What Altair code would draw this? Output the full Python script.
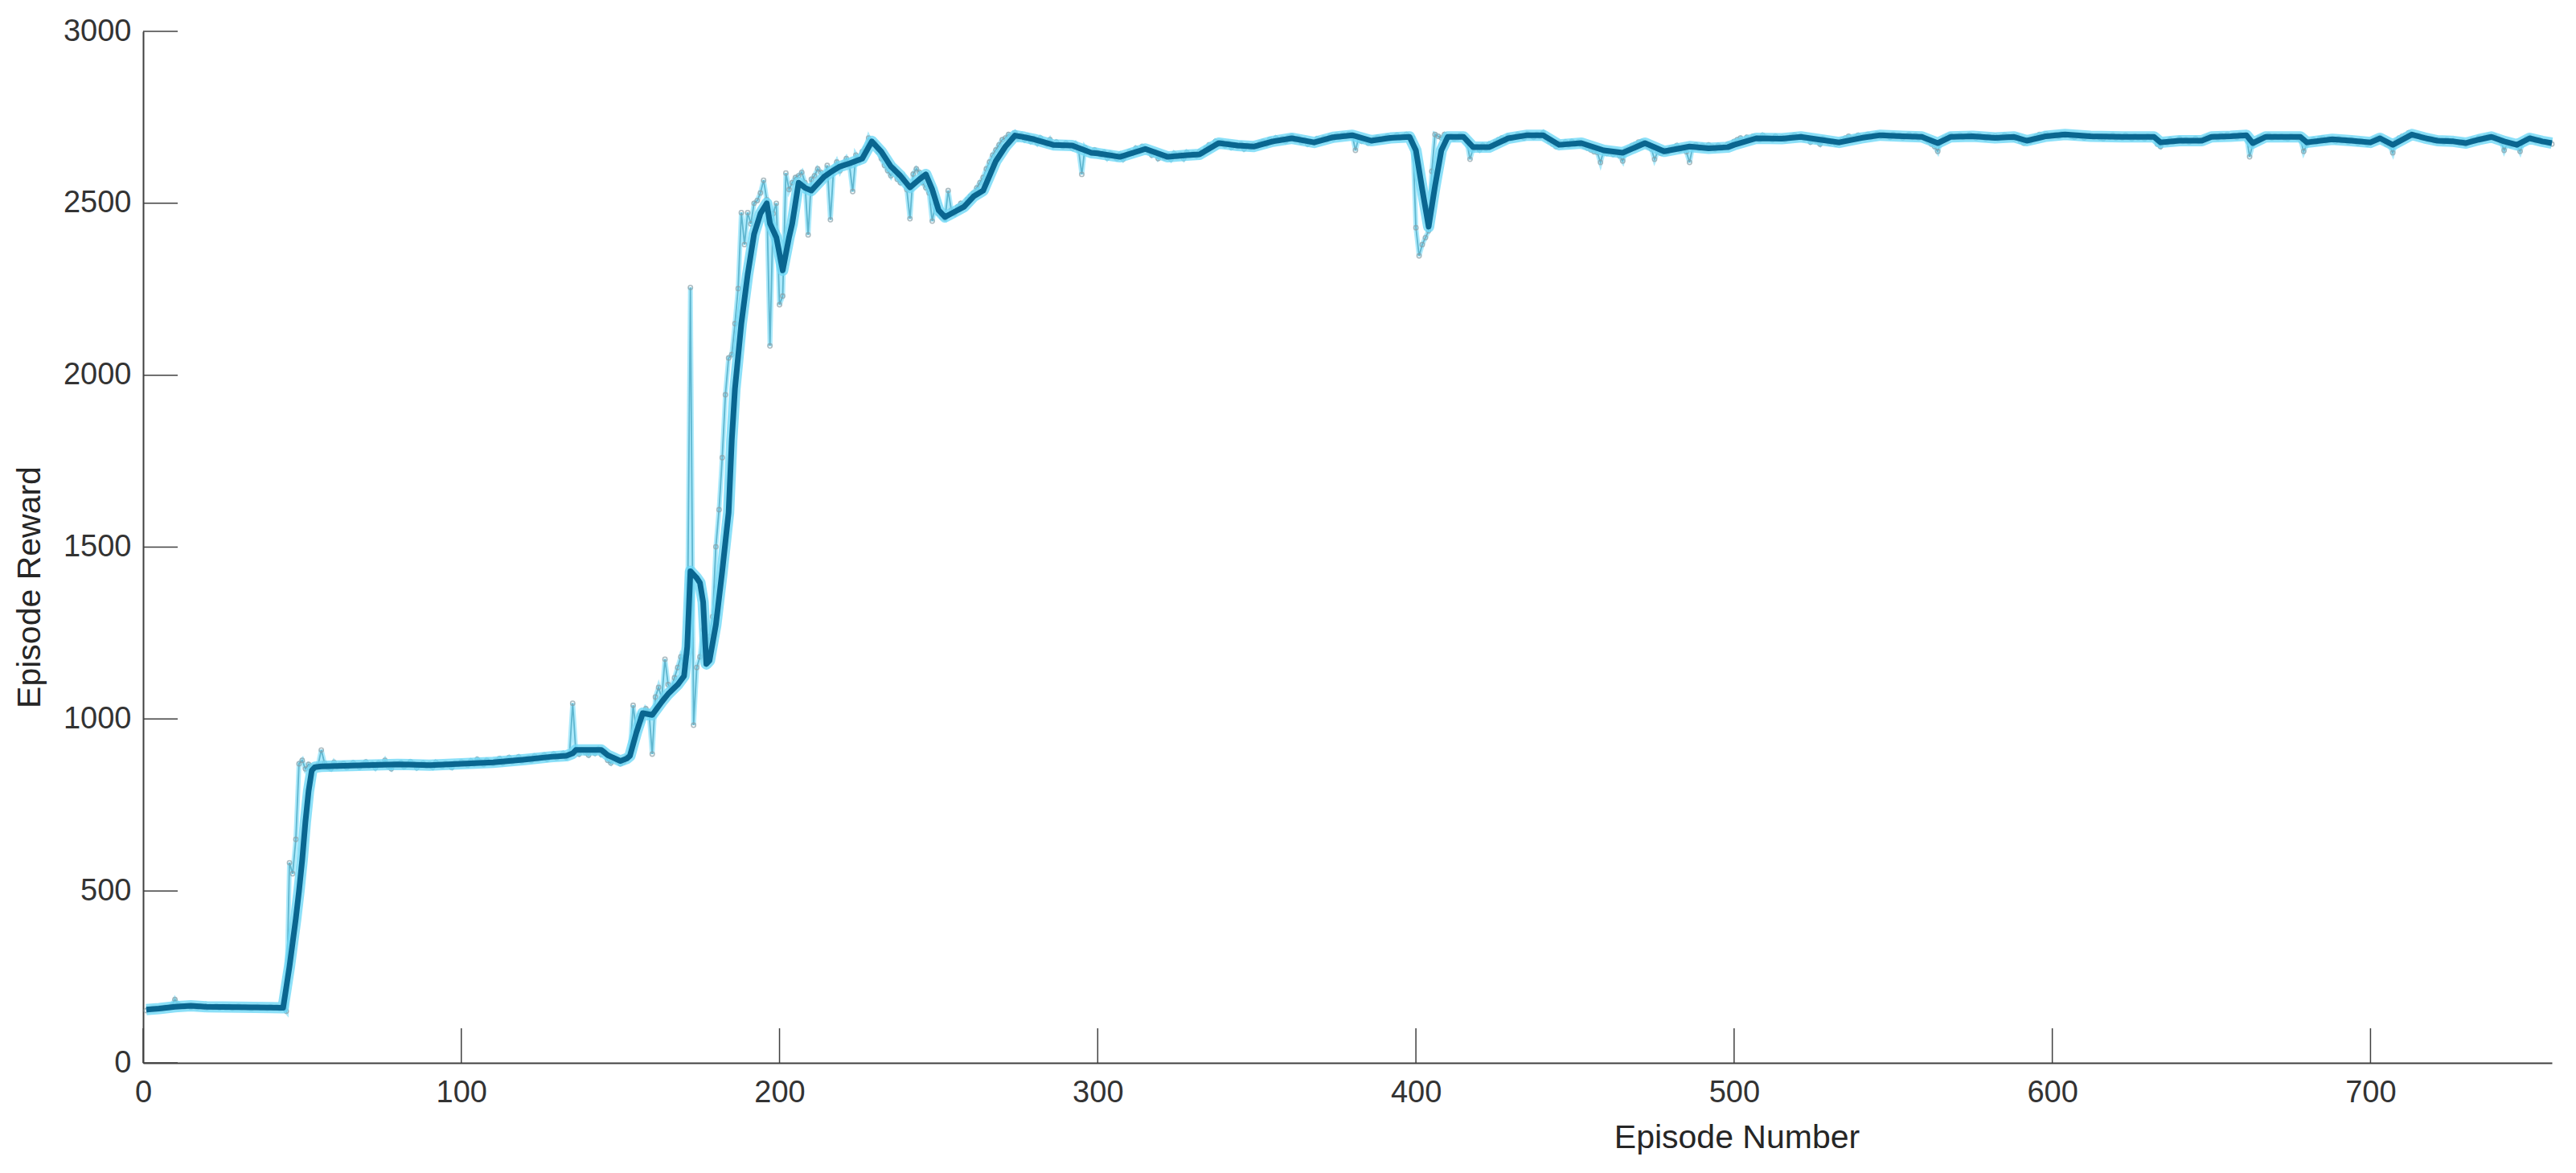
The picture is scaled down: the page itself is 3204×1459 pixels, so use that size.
import altair as alt
import pandas as pd

FONT = "Liberation Sans"

# ---------------- data ----------------
# Episode reward, one value per episode, in blocks of episodes
reward_001_044 = [152, 156, 158, 157, 160, 159, 162, 161, 166, 184,
                  170, 166, 163, 165, 162, 164, 161, 166, 163, 160,
                  164, 162, 165, 160, 163, 161, 164, 159, 162, 165,
                  161, 163, 160, 158, 162, 164, 160, 161, 159, 163,
                  160, 162, 158, 161]
reward_045_100 = [150, 582, 550, 650,
                  870, 880, 855, 868, 862, 858,
                  866, 910, 872, 860, 855, 874,
                  862, 868, 871, 859, 865, 873, 866, 860, 869, 875,
                  864, 870, 858, 872, 866, 880, 862, 855, 870, 868,
                  873, 861, 867, 876, 870, 858, 866, 872, 864, 869,
                  860, 874, 868, 863, 871, 866, 859, 872, 868, 875]
reward_101_150 = [872, 866, 878, 870, 883, 875, 868, 880, 874, 871,
                  879, 885, 872, 880, 888, 876, 882, 890, 878, 884,
                  887, 880, 892, 885, 889, 895, 883, 890, 898, 887,
                  893, 900, 888, 896, 1046, 905, 898, 910, 902, 895,
                  908, 900, 912, 897, 905, 880, 872, 885, 878, 870]
reward_151_210 = [875, 890, 900, 1040, 965, 1010, 1000, 1030, 1020, 898,
                  1064, 1092, 1060, 1174, 1100, 1090, 1120, 1150, 1181, 1160,
                  1190, 2255, 982, 1150, 1181, 1260, 1200, 1240, 1298, 1501,
                  1609, 1760, 1943, 2050, 2060, 2150, 2252, 2473, 2380, 2473,
                  2440, 2500, 2508, 2530, 2567, 2510, 2085, 2470, 2500, 2205,
                  2230, 2588, 2540, 2560, 2575, 2580, 2590, 2560, 2408, 2570]
reward_211_300 = [2580, 2600, 2590, 2575, 2610, 2452, 2600, 2620, 2595, 2615,
                  2630, 2610, 2534, 2640, 2625, 2650, 2660, 2690, 2670, 2675,
                  2650, 2630, 2610, 2595, 2580, 2600, 2570, 2560, 2575, 2540,
                  2455, 2585, 2600, 2590, 2560, 2545, 2530, 2448, 2500, 2470,
                  2460, 2455, 2537, 2480, 2470, 2490, 2500, 2495, 2510, 2520,
                  2530, 2545, 2560, 2575, 2600, 2620, 2640, 2655, 2670, 2685,
                  2690, 2700, 2695, 2705, 2690, 2698, 2685, 2695, 2680, 2688,
                  2675, 2690, 2680, 2672, 2685, 2668, 2678, 2670, 2665, 2675,
                  2668, 2660, 2672, 2655, 2584, 2662, 2650, 2645, 2655, 2648]
reward_301_400 = [2640, 2648, 2632, 2645, 2638, 2630, 2642, 2628, 2640, 2650,
                  2645, 2660, 2652, 2665, 2658, 2650, 2640, 2648, 2630, 2638,
                  2632, 2640, 2628, 2645, 2636, 2642, 2630, 2648, 2640, 2645,
                  2638, 2650, 2645, 2660, 2670, 2665, 2680, 2672, 2678, 2668,
                  2675, 2662, 2670, 2665, 2672, 2658, 2668, 2662, 2670, 2665,
                  2675, 2680, 2672, 2685, 2678, 2690, 2682, 2688, 2680, 2692,
                  2695, 2685, 2690, 2678, 2684, 2672, 2680, 2676, 2688, 2682,
                  2690, 2685, 2695, 2688, 2698, 2692, 2700, 2695, 2702, 2698,
                  2654, 2690, 2680, 2685, 2675, 2680, 2688, 2692, 2685, 2690,
                  2695, 2688, 2692, 2698, 2690, 2695, 2700, 2692, 2690, 2429]
reward_401_500 = [2347, 2380, 2400, 2420, 2593, 2700, 2695, 2690, 2700, 2692,
                  2695, 2688, 2690, 2698, 2692, 2680, 2628, 2660, 2665, 2655,
                  2668, 2660, 2672, 2665, 2678, 2685, 2690, 2682, 2695, 2688,
                  2692, 2700, 2695, 2690, 2702, 2698, 2692, 2700, 2695, 2705,
                  2690, 2680, 2672, 2665, 2675, 2668, 2678, 2670, 2680, 2672,
                  2678, 2670, 2665, 2660, 2655, 2650, 2648, 2619, 2652, 2645,
                  2650, 2642, 2648, 2638, 2623, 2655, 2660, 2668, 2672, 2678,
                  2680, 2670, 2665, 2658, 2628, 2650, 2645, 2655, 2648, 2660,
                  2662, 2668, 2655, 2660, 2650, 2619, 2665, 2670, 2660, 2668,
                  2662, 2670, 2665, 2658, 2668, 2660, 2665, 2672, 2670, 2680]
reward_501_600 = [2685, 2690, 2680, 2692, 2688, 2695, 2690, 2685, 2698, 2692,
                  2690, 2685, 2695, 2688, 2692, 2685, 2690, 2695, 2698, 2692,
                  2695, 2688, 2690, 2678, 2685, 2680, 2672, 2688, 2682, 2675,
                  2680, 2672, 2678, 2685, 2690, 2695, 2688, 2692, 2698, 2690,
                  2695, 2700, 2692, 2698, 2702, 2695, 2700, 2698, 2692, 2700,
                  2695, 2698, 2690, 2695, 2700, 2692, 2698, 2690, 2695, 2688,
                  2680, 2672, 2665, 2651, 2680, 2690, 2695, 2698, 2692, 2695,
                  2698, 2692, 2695, 2700, 2695, 2690, 2698, 2692, 2688, 2695,
                  2690, 2695, 2688, 2692, 2698, 2695, 2690, 2688, 2695, 2680,
                  2675, 2685, 2680, 2688, 2695, 2700, 2698, 2702, 2695, 2698]
reward_601_700 = [2700, 2695, 2702, 2698, 2700, 2695, 2692, 2698, 2695, 2690,
                  2695, 2698, 2692, 2695, 2690, 2688, 2695, 2692, 2698, 2690,
                  2695, 2690, 2698, 2692, 2688, 2695, 2690, 2692, 2688, 2695,
                  2690, 2692, 2672, 2665, 2680, 2675, 2685, 2678, 2682, 2688,
                  2680, 2685, 2678, 2682, 2688, 2680, 2685, 2690, 2695, 2692,
                  2695, 2690, 2698, 2692, 2700, 2695, 2698, 2692, 2700, 2695,
                  2698, 2635, 2672, 2680, 2690, 2695, 2692, 2698, 2690, 2695,
                  2692, 2695, 2690, 2688, 2695, 2692, 2690, 2685, 2651, 2672,
                  2680, 2685, 2678, 2688, 2690, 2682, 2688, 2685, 2680, 2688,
                  2682, 2685, 2678, 2685, 2680, 2675, 2682, 2678, 2672, 2680]
reward_701_757 = [2685, 2690, 2692, 2680, 2672, 2668, 2647, 2680, 2690, 2695,
                  2698, 2705, 2700, 2695, 2698, 2690, 2692, 2685, 2688, 2682,
                  2685, 2680, 2678, 2685, 2680, 2682, 2678, 2675, 2680, 2672,
                  2678, 2685, 2682, 2690, 2688, 2692, 2695, 2690, 2695, 2688,
                  2680, 2654, 2675, 2668, 2672, 2670, 2651, 2680, 2688, 2692,
                  2688, 2682, 2685, 2678, 2680, 2675, 2672]

# Average reward (read at the episodes listed)
avg_episodes = [1, 5, 10, 15, 20, 30, 40, 44, 45, 46, 47, 48, 49, 50, 51, 52, 53, 54, 56,
                70, 80, 90, 100, 110, 120, 128, 133, 135, 136, 144, 146, 150, 152, 153,
                155, 157, 160, 163, 165, 168, 170, 171, 172, 174, 175, 176, 177, 178, 180,
                182, 184, 185, 186, 188, 190, 192, 194, 196, 197, 199, 201, 203, 204, 206,
                208, 210, 214, 216, 219, 222, 226, 229, 232, 235, 238, 241, 244, 246, 248,
                250, 252, 255, 258, 261, 264, 268, 271, 274, 277, 280, 286, 292, 298, 300,
                307, 315, 322, 328, 332, 338, 344, 349, 355, 361, 368, 374, 380, 386, 392,
                398, 400, 402, 404, 406, 408, 410, 415, 418, 423, 429, 435, 440, 445, 452,
                459, 465, 472, 478, 486, 492, 498, 500, 507, 515, 521, 527, 533, 540, 546,
                553, 559, 564, 568, 575, 582, 588, 592, 598, 604, 612, 622, 632, 634, 640,
                647, 650, 656, 661, 663, 667, 678, 680, 688, 694, 700, 703, 707, 713, 717,
                721, 726, 730, 734, 738, 742, 746, 750, 754, 757]
avg_values = [155, 158, 163, 166, 163, 162, 161, 160, 220, 280, 350, 420, 500, 590, 700, 790, 850, 860, 862,
              866, 868, 866, 870, 874, 882, 890, 893, 900, 910, 910, 895, 878, 885, 893,
              960, 1017, 1012, 1050, 1073, 1100, 1125, 1210, 1430, 1410, 1396, 1340, 1160, 1170, 1274,
              1430, 1600, 1810, 1960, 2150, 2293, 2410, 2470, 2500, 2441, 2401, 2305, 2401, 2441, 2560,
              2545, 2537, 2577, 2590, 2607, 2616, 2630, 2680, 2650, 2607, 2580, 2546, 2570, 2584, 2540,
              2480, 2460, 2475, 2490, 2520, 2537, 2623, 2665, 2697, 2692, 2686, 2670, 2668, 2647, 2645,
              2635, 2658, 2635, 2640, 2642, 2675, 2668, 2665, 2680, 2689, 2677, 2692, 2698, 2682, 2690,
              2693, 2654, 2540, 2432, 2550, 2654, 2693, 2693, 2663, 2663, 2689, 2698, 2698, 2670, 2675,
              2654, 2647, 2675, 2651, 2665, 2660, 2663, 2670, 2689, 2688, 2693, 2685, 2677, 2690, 2698,
              2695, 2693, 2675, 2693, 2695, 2690, 2693, 2682, 2695, 2700, 2695, 2693, 2693, 2677, 2682,
              2682, 2693, 2695, 2698, 2675, 2693, 2693, 2677, 2686, 2682, 2677, 2689, 2670, 2700, 2690,
              2682, 2680, 2675, 2685, 2693, 2680, 2670, 2689, 2680, 2675]

x_ticks = [0, 100, 200, 300, 400, 500, 600, 700]
y_ticks = [0, 500, 1000, 1500, 2000, 2500, 3000]

# ---------------- tables ----------------
reward = (reward_001_044 + reward_045_100 + reward_101_150 + reward_151_210 +
          reward_211_300 + reward_301_400 + reward_401_500 + reward_501_600 +
          reward_601_700 + reward_701_757)
raw_df = pd.DataFrame({"Episode": list(range(1, len(reward) + 1)), "Reward": reward})
avg_df = pd.DataFrame({"Episode": avg_episodes, "Reward": avg_values})
xt_df = pd.DataFrame({"Episode": x_ticks})
yt_df = pd.DataFrame({"Reward": y_ticks})

W, H = 2996, 1283
AXIS_COLOR = "#404040"

x_axis = alt.Axis(title="Episode Number", values=x_ticks, format="d", ticks=False, tickSize=0,
                  grid=False, domainColor=AXIS_COLOR, domainWidth=2,
                  labelFont=FONT, labelFontSize=38, labelColor="#333333", labelPadding=18,
                  labelFlush=False, labelOverlap=False,
                  titleFont=FONT, titleFontSize=41, titleFontWeight="normal", titleColor="#262626",
                  titleX=1982, titleY=93, titleBaseline="middle", titleAlign="center")
y_axis = alt.Axis(title="Episode Reward", values=y_ticks, format="d", ticks=False, tickSize=0,
                  grid=False, domainColor=AXIS_COLOR, domainWidth=2,
                  labelFont=FONT, labelFontSize=38, labelColor="#333333", labelPadding=15,
                  labelFlush=False, labelOverlap=False,
                  titleFont=FONT, titleFontSize=41, titleFontWeight="normal", titleColor="#262626",
                  titleX=-141, titleY=691, titleBaseline="middle", titleAlign="center")

xs = alt.Scale(domain=[0, 757], nice=False, zero=False)
ys = alt.Scale(domain=[0, 3000], nice=False, zero=False)
X = alt.X("Episode:Q", scale=xs, axis=x_axis)
Y = alt.Y("Reward:Q", scale=ys, axis=y_axis)

raw_halo = alt.Chart(raw_df).mark_line(color="#9fe6fa", strokeWidth=6, opacity=0.85).encode(x=X, y=Y)
raw_line = alt.Chart(raw_df).mark_line(color="#5fb6cf", strokeWidth=1.8).encode(x=X, y=Y)
raw_pts = alt.Chart(raw_df).mark_point(shape="circle", size=28, filled=False,
                                       stroke="#8aa0a8", strokeWidth=1.6).encode(x=X, y=Y)
avg_halo = alt.Chart(avg_df).mark_line(color="#6fd8f6", strokeWidth=14, opacity=0.8,
                                       strokeJoin="round").encode(x=X, y=Y)
avg_line = alt.Chart(avg_df).mark_line(color="#0a6690", strokeWidth=7,
                                       strokeJoin="round").encode(x=X, y=Y)

x_tick_rules = alt.Chart(xt_df).mark_rule(color=AXIS_COLOR, strokeWidth=1.5).encode(
    x=X, y=alt.value(H), y2=alt.value(H - 43))
y_tick_rules = alt.Chart(yt_df).mark_rule(color=AXIS_COLOR, strokeWidth=1.5).encode(
    y=Y, x=alt.value(0), x2=alt.value(43))

chart = alt.layer(
    raw_halo, raw_line, raw_pts, avg_halo, avg_line, x_tick_rules, y_tick_rules
).properties(
    width=W, height=H,
    autosize=alt.AutoSizeParams(type="none"),
    padding={"left": 170, "top": 31, "right": 20, "bottom": 120},
    background="white",
).configure_view(stroke=None)

chart.save("out.html", embed_options={"renderer": "svg", "actions": False})
